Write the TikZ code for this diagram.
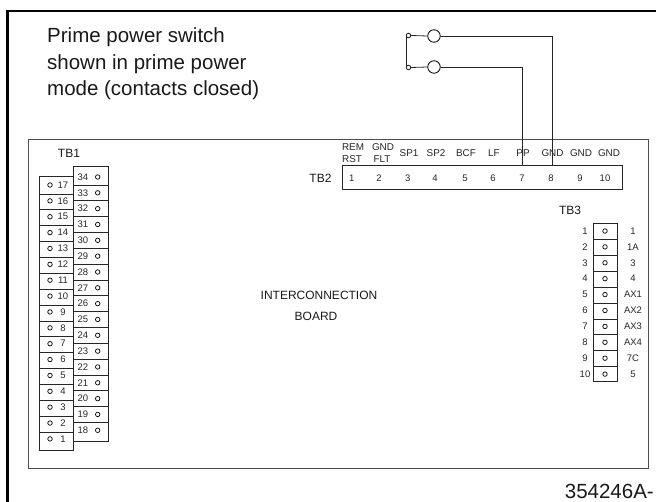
\documentclass[tikz,border=0pt]{standalone}
\usepackage{fontspec}
\setmainfont{Liberation Sans}
\begin{document}
\begin{tikzpicture}[x=1pt,y=-1pt,
        frame/.style={line width=2.4pt,black},
        board/.style={line width=0.8pt,black!70},
        cell/.style={line width=0.9pt,black!85},
        wire/.style={line width=0.8pt,black!85},
        hole/.style={circle,draw,line width=0.7pt,inner sep=0pt,minimum size=4.5pt},
        contact/.style={circle,draw,line width=0.8pt,inner sep=0pt,minimum size=12.5pt},
        tiny label/.style={font=\fontsize{9.5}{10}\selectfont,inner sep=0pt,text=black!85},
        head label/.style={font=\fontsize{9.9}{10}\selectfont,inner sep=0pt,text=black!85},
        small label/.style={font=\fontsize{12}{13}\selectfont,inner sep=0pt,text=black!90},
        big label/.style={font=\fontsize{20.5}{26.5}\selectfont,inner sep=0pt,text=black!90}]
    \useasboundingbox (0,0) rectangle (656,502);
    \draw[frame] (7.5,502) -- (7.5,11) -- (656,11);
    \draw[board] (28,139) rectangle (648,468);
    \node[big label,anchor=base west,align=left] (note) at (47,96)
        {Prime power switch\\shown in prime power\\mode (contacts closed)};
    \node[big label,anchor=base east] (partno) at (654,498) {354246A-};
    \node[small label] (boardname) at (319,295) {INTERCONNECTION};
    \node[small label] (boardname2) at (316,316.5) {BOARD};
    % TB1
    \node[small label] (tb1) at (69,153) {TB1};
    \draw[cell] (39,176) rectangle (73.3,450);
    \draw[cell] (73.3,166.7) rectangle (108.7,441);
    \foreach \n in {17,16,...,1} {
        \pgfmathsetmacro{\rowy}{185+(17-\n)*15.87}
        \node[hole] (hl\n) at (50,\rowy) {};
        \node[tiny label] (tl\n) at (63,\rowy) {\n};
    }
    \foreach \n in {34,33,...,18} {
        \pgfmathsetmacro{\rowy}{177+(34-\n)*15.83}
        \node[hole] (hl\n) at (97.7,\rowy) {};
        \node[tiny label] (tl\n) at (83,\rowy) {\n};
    }
    \foreach \k in {0,...,15} {
        \draw[cell] (39,194+\k*15.87) -- (73.3,194+\k*15.87);
        \draw[cell] (73.3,185+\k*15.83) -- (108.7,185+\k*15.83);
    }
    % TB2
    \node[small label] (tb2) at (320.5,178) {TB2};
    \draw[cell] (342.7,165.3) rectangle (622,189.3);
    \foreach \n/\x/\hx/\t in {1/351.7/353/,2/379/382/,3/407.7/409/SP1,4/435/436/SP2,5/465/466/BCF,6/493/494/LF,7/522/523/PP,8/551/552.5/GND,9/580/581/GND,10/605/609/GND} {
        \node[tiny label] (tn\n) at (\x,178) {\n};
        \node[head label] (tt\n) at (\hx,152.7) {\t};
    }
    \coordinate (pin7) at (522.3,165.3);
    \coordinate (pin8) at (552.3,165.3);
    \node[head label] (rem) at (353,146.7) {REM};
    \node[head label] (rst) at (352,159.3) {RST};
    \node[head label] (gnd) at (383,146.7) {GND};
    \node[head label] (flt) at (382,159.3) {FLT};
    % prime power switch
    \node[hole] (ca) at (408.5,35.5) {};
    \node[hole] (cb) at (408.5,67.5) {};
    \node[contact] (sa) at (434,36) {};
    \node[contact] (sb) at (434,67) {};
    \draw[wire] (ca.east) -- (sa.west);
    \draw[wire] (cb.east) -- (sb.west);
    \draw[wire] (ca.west) -- (cb.west);
    \draw[wire] (sa.east) -| (pin8);
    \draw[wire] (sb.east) -| (pin7);
    % TB3
    \node[small label] (tb3) at (570,210.5) {TB3};
    \draw[cell] (593.3,223.3) rectangle (617,381.7);
    \foreach \n/\t in {1/1,2/1A,3/3,4/4,5/AX1,6/AX2,7/AX3,8/AX4,9/7C,10/5} {
        \pgfmathsetmacro{\rowy}{231+(\n-1)*15.9}
        \node[hole] (h\n) at (605,\rowy) {};
        \node[tiny label] (n\n) at (585,\rowy) {\n};
        \node[tiny label] (t\n) at (633,\rowy) {\t};
    }
    \foreach \k in {0,...,8} {
        \draw[cell] (593.3,239.5+\k*15.9) -- (617,239.5+\k*15.9);
    }
\end{tikzpicture}
\end{document}
